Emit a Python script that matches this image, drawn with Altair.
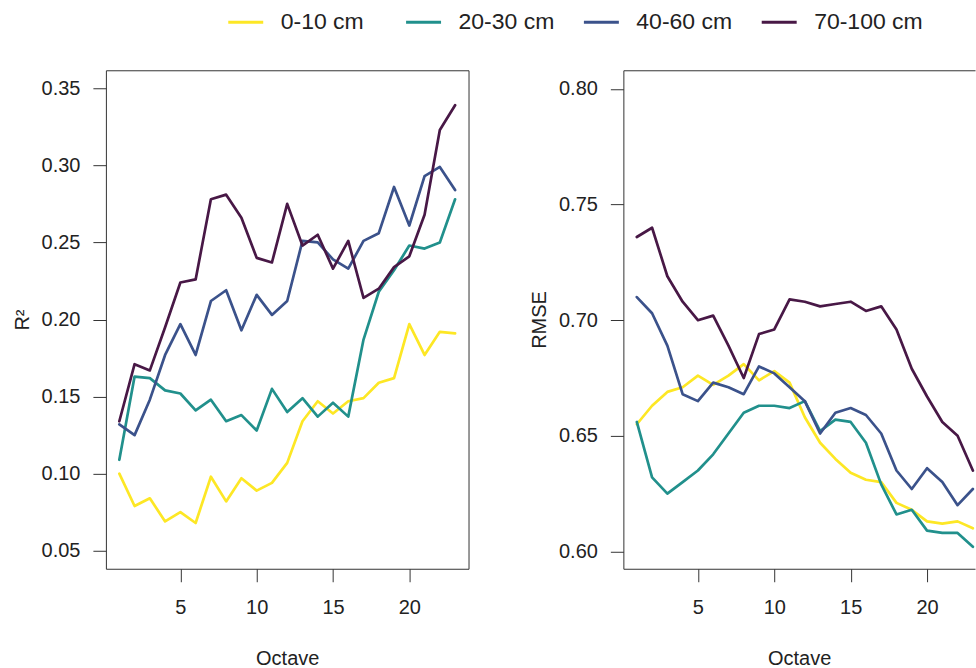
import altair as alt
import pandas as pd

# Octave index on the x axis
octave = list(range(1, 24))

# Soil depth layers and their line colours
depths = ["0-10 cm", "20-30 cm", "40-60 cm", "70-100 cm"]
colors = ["#FDE725", "#21908C", "#3B528B", "#481846"]

# R² per octave for each depth
r2_0_10 = [0.100, 0.079, 0.084, 0.069, 0.075, 0.068, 0.098, 0.082, 0.097, 0.089, 0.094, 0.107,
           0.134, 0.147, 0.139, 0.147, 0.149, 0.159, 0.162, 0.197, 0.177, 0.192, 0.191]
r2_20_30 = [0.109, 0.163, 0.162, 0.154, 0.152, 0.141, 0.148, 0.134, 0.138, 0.128, 0.155, 0.140,
            0.149, 0.137, 0.146, 0.137, 0.187, 0.218, 0.232, 0.248, 0.246, 0.250, 0.278]
r2_40_60 = [0.132, 0.125, 0.148, 0.177, 0.197, 0.177, 0.212, 0.219, 0.193, 0.216, 0.203, 0.212,
            0.251, 0.250, 0.239, 0.233, 0.251, 0.256, 0.286, 0.261, 0.293, 0.299, 0.284]
r2_70_100 = [0.134, 0.171, 0.167, 0.195, 0.224, 0.226, 0.278, 0.281, 0.266, 0.240, 0.237, 0.275,
             0.248, 0.255, 0.233, 0.251, 0.214, 0.220, 0.234, 0.241, 0.268, 0.323, 0.339]

# RMSE per octave for each depth
rmse_0_10 = [0.655, 0.663, 0.669, 0.671, 0.676, 0.672, 0.676, 0.681, 0.674, 0.678, 0.673, 0.658,
             0.647, 0.640, 0.634, 0.631, 0.630, 0.621, 0.618, 0.613, 0.612, 0.613, 0.610]
rmse_20_30 = [0.656, 0.632, 0.625, 0.630, 0.635, 0.642, 0.651, 0.660, 0.663, 0.663, 0.662, 0.665,
              0.652, 0.657, 0.656, 0.647, 0.629, 0.616, 0.618, 0.609, 0.608, 0.608, 0.602]
rmse_40_60 = [0.710, 0.703, 0.689, 0.668, 0.665, 0.673, 0.671, 0.668, 0.680, 0.677, 0.671, 0.665,
              0.651, 0.660, 0.662, 0.659, 0.651, 0.635, 0.627, 0.636, 0.630, 0.620, 0.627]
rmse_70_100 = [0.736, 0.740, 0.719, 0.708, 0.700, 0.702, 0.689, 0.675, 0.694, 0.696, 0.709, 0.708,
               0.706, 0.707, 0.708, 0.704, 0.706, 0.696, 0.679, 0.667, 0.656, 0.650, 0.635]

r2_series = [r2_0_10, r2_20_30, r2_40_60, r2_70_100]
rmse_series = [rmse_0_10, rmse_20_30, rmse_40_60, rmse_70_100]

rows = []
for k, (d, r2s, rms) in enumerate(zip(depths, r2_series, rmse_series)):
    for o, a, b in zip(octave, r2s, rms):
        rows.append({"Octave": o, "depth": d, "layer": k, "R2": a, "RMSE": b})
df = pd.DataFrame(rows)

FONT = "Liberation Sans"
INK = "#222222"
FRAME = "#333333"

color = alt.Color(
    "depth:N",
    scale=alt.Scale(domain=depths, range=colors),
    legend=alt.Legend(
        title=None, orient="none", legendX=121, legendY=-67,
        direction="horizontal", columns=4, gridAlign="all",
        symbolType="stroke", symbolSize=1225, symbolStrokeWidth=3,
        labelFontSize=23, labelOffset=16, columnPadding=10,
        labelFont=FONT, labelColor=INK,
    ),
)

axis_style = dict(
    labelFontSize=20, titleFontSize=20, labelFont=FONT, titleFont=FONT,
    labelColor=INK, titleColor=INK, titleFontWeight="normal",
    tickSize=13, tickColor=FRAME, tickWidth=1, grid=False,
    domainColor=FRAME, domainWidth=1,
)

line_props = dict(strokeWidth=2.7, strokeJoin="round", strokeCap="round", clip=True)

# Left panel: R²
x_left = alt.Scale(domain=[0.12, 23.88], nice=False, zero=False)
y_left = alt.Scale(domain=[0.0383, 0.3617], nice=False, zero=False)

left = alt.Chart(df).mark_line(**line_props).encode(
    x=alt.X("Octave:Q", scale=x_left,
            axis=alt.Axis(values=[5, 10, 15, 20], domain=False, labelPadding=16,
                          titlePadding=31, **axis_style)),
    y=alt.Y("R2:Q", title="R²", scale=y_left,
            axis=alt.Axis(values=[0.05, 0.10, 0.15, 0.20, 0.25, 0.30, 0.35], format=".2f",
                          domain=False, labelPadding=13, titlePadding=9, **axis_style)),
    color=color,
    detail="layer:O",
).properties(width=363, height=499)

# Right panel: RMSE (runs past the right edge of the page)
x_right = alt.Scale(domain=[0.12, 23.14], nice=False, zero=False)
y_right = alt.Scale(domain=[0.5925, 0.8081], nice=False, zero=False)

right_lines = alt.Chart(df).mark_line(**line_props).encode(
    x=alt.X("Octave:Q", scale=x_right,
            axis=alt.Axis(values=[5, 10, 15, 20], domain=True, labelPadding=16,
                          titlePadding=31, **axis_style)),
    y=alt.Y("RMSE:Q", title="RMSE", scale=y_right,
            axis=alt.Axis(values=[0.60, 0.65, 0.70, 0.75, 0.80], format=".2f",
                          domain=True, labelPadding=13, titlePadding=9, **axis_style)),
    color=color,
    detail="layer:O",
)

# Invisible layer that carries the top frame edge as an axis domain line
right_top = alt.Chart(df).mark_point(opacity=0, clip=True).encode(
    x=alt.X("Octave:Q", scale=x_right,
            axis=alt.Axis(orient="top", labels=False, ticks=False, title=None,
                          domain=True, domainColor=FRAME, domainWidth=1, grid=False)),
)

right = alt.layer(right_lines, right_top).resolve_axis(x="independent").properties(
    width=352, height=499, view=alt.ViewBackground(stroke="transparent")
)

chart = alt.hconcat(left, right, spacing=155, bounds="flush").properties(
    padding={"left": 11, "top": 3, "right": 0, "bottom": 0},
    background="white",
).configure(font=FONT).configure_view(stroke=FRAME, strokeWidth=1)

chart.save("out.html", embed_options={"renderer": "svg", "actions": False})
